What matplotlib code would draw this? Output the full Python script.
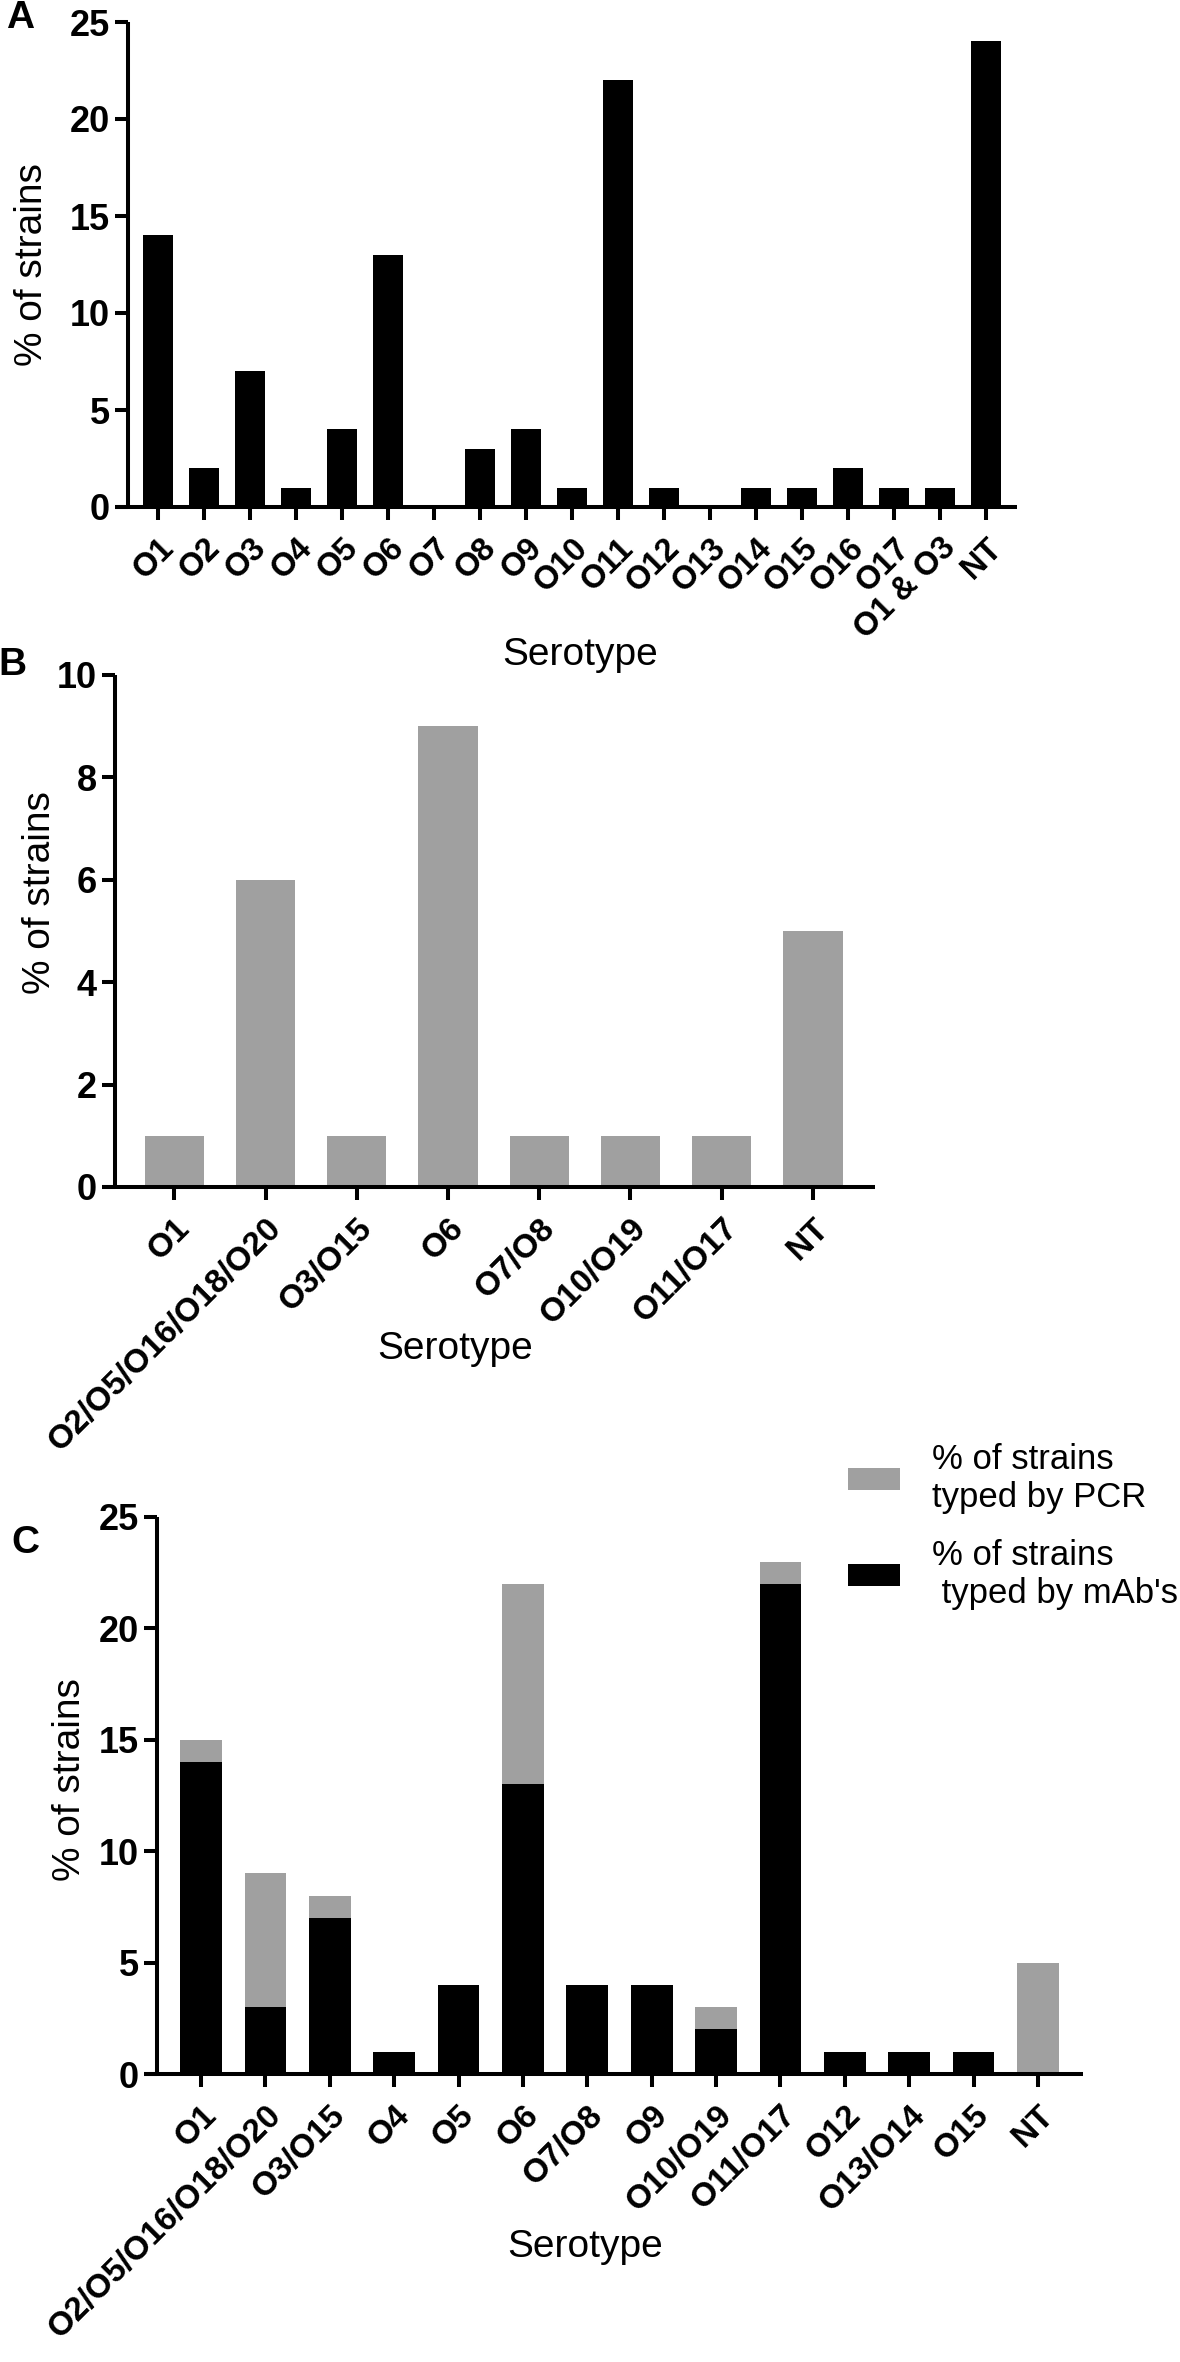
import matplotlib
matplotlib.use("Agg")
import matplotlib.pyplot as plt
from matplotlib.patches import Patch

plt.rcParams['font.family'] = ['Liberation Sans', 'DejaVu Sans']

# ---------------- data ----------------
a_labels = ["O1", "O2", "O3", "O4", "O5", "O6", "O7", "O8", "O9", "O10", "O11",
            "O12", "O13", "O14", "O15", "O16", "O17", "O1 & O3", "NT"]
a_values = [14, 2, 7, 1, 4, 13, 0, 3, 4, 1, 22, 1, 0, 1, 1, 2, 1, 1, 24]

b_labels = ["O1", "O2/O5/O16/O18/O20", "O3/O15", "O6", "O7/O8", "O10/O19", "O11/O17", "NT"]
b_values = [1, 6, 1, 9, 1, 1, 1, 5]

c_labels = ["O1", "O2/O5/O16/O18/O20", "O3/O15", "O4", "O5", "O6", "O7/O8", "O9",
            "O10/O19", "O11/O17", "O12", "O13/O14", "O15", "NT"]
c_mab = [14, 3, 7, 1, 4, 13, 4, 4, 2, 22, 1, 1, 1, 0]
c_pcr = [1, 6, 1, 0, 0, 9, 0, 0, 1, 1, 0, 0, 0, 5]

GRAY = "#a0a0a0"
W, H = 1180, 2362
fig = plt.figure(figsize=(W / 100, H / 100), dpi=100)


def fx(px):
    return px / W


def fy(py):
    return 1 - py / H


def make_axes(x0, x1, ytop, ybot):
    return fig.add_axes([fx(x0), fy(ybot), (x1 - x0) / W, (ybot - ytop) / H])


def style(ax, spine_x, xleft, xright, ymax, yticks, xlabels, xfs):
    ax.set_xlim(xleft, xright)
    ax.set_ylim(0, ymax)
    for s in ("top", "right"):
        ax.spines[s].set_visible(False)
    ax.spines["left"].set_position(("data", spine_x))
    for s in ("left", "bottom"):
        ax.spines[s].set_linewidth(2.9)
        ax.spines[s].set_capstyle("butt")
    ax.set_yticks(yticks)
    ax.set_yticklabels([str(t) for t in yticks], fontsize=26, fontweight="bold")
    ax.tick_params(axis="y", length=9.4, width=2.9, pad=3.5)
    ax.tick_params(axis="x", length=9.4, width=2.9, pad=9)
    ax.set_xticks(range(len(xlabels)))
    ax.set_xticklabels(xlabels, rotation=45, ha="right", va="top",
                       rotation_mode="anchor", fontsize=xfs, fontweight="bold")


# ---------------- Panel A ----------------
axA = make_axes(115, 1017, 22, 507)
xa = list(range(len(a_labels)))
axA.bar(xa, a_values, width=0.65, color="black", edgecolor="none")
style(axA, -0.65, -0.65 - 13 / 46, 18.67, 25, [0, 5, 10, 15, 20, 25], a_labels, 23.5)

# ---------------- Panel B ----------------
axB = make_axes(102, 875, 675, 1187)
xb = list(range(len(b_labels)))
axB.bar(xb, b_values, width=0.65, color=GRAY, edgecolor="none")
style(axB, -0.65, -0.65 - 13 / 91.3, 7.68, 10, [0, 2, 4, 6, 8, 10], b_labels, 24)

# ---------------- Panel C ----------------
axC = make_axes(144, 1083, 1517, 2074)
xc = list(range(len(c_labels)))
axC.bar(xc, c_mab, width=0.65, color="black", edgecolor="none",
        label="% of strains\n typed by mAb's")
axC.bar(xc, c_pcr, width=0.65, bottom=c_mab, color=GRAY, edgecolor="none",
        label="% of strains\ntyped by PCR")
style(axC, -0.684, -0.684 - 13 / 64.3, 13.70, 25, [0, 5, 10, 15, 20, 25], c_labels, 24)

handles = [Patch(facecolor=GRAY, edgecolor="none"), Patch(facecolor="black", edgecolor="none")]
fig.legend(handles, ["% of strains\ntyped by PCR", "% of strains\n typed by mAb's"],
           loc="upper left", bbox_to_anchor=(fx(848), fy(1443)), frameon=False,
           fontsize=25, borderpad=0, borderaxespad=0, handlelength=1.5,
           handleheight=0.6, handletextpad=0.92, labelspacing=0.7)

# ---------------- labels ----------------
for y, yc in ((32, 265), (40, 893), (70, 1780)):
    fig.text(fx(y), fy(yc), "% of strains", rotation=90, ha="center", va="center", fontsize=28)
for xcen, yc in ((580, 655), (455, 1349), (585, 2247)):
    fig.text(fx(xcen), fy(yc), "Serotype", ha="center", va="center", fontsize=28)
for letter, xl, yl in (("A", 20, 18), ("B", 12, 665), ("C", 25, 1543)):
    fig.text(fx(xl), fy(yl), letter, ha="center", va="center", fontsize=28, fontweight="bold")

fig.savefig("out.png", dpi=100)
